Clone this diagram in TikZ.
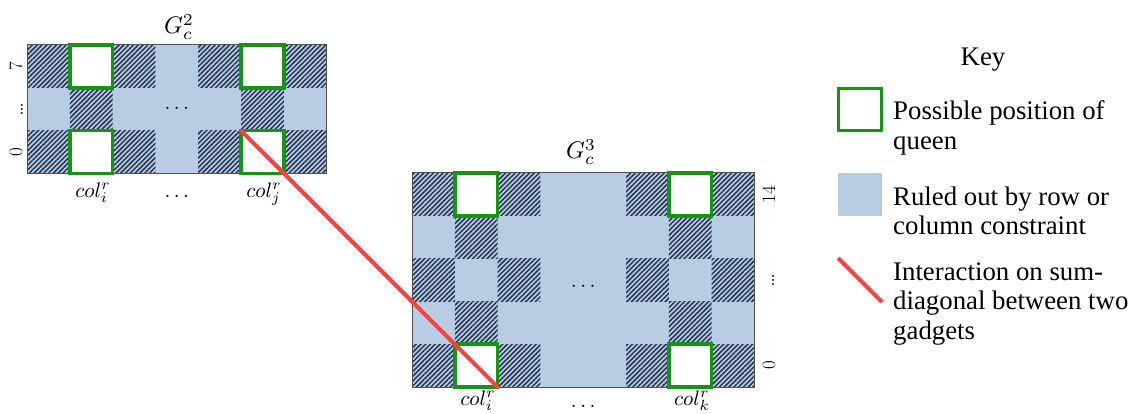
\documentclass[tikz,border=0pt]{standalone}
\usepackage{graphicx}
\usepackage{fontspec}
\newfontfamily\keyfont{Liberation Serif}
\usetikzlibrary{patterns.meta}
\definecolor{bgblue}{RGB}{184,204,228}
\definecolor{hatchc}{RGB}{38,52,80}
\definecolor{qgreen}{RGB}{20,150,20}
\definecolor{ired}{RGB}{255,64,64}
\definecolor{gridline}{RGB}{80,80,80}
\newcommand\mlbl[2][2.1]{\scalebox{#1}{$#2$}}
\begin{document}
\begin{tikzpicture}[x=1pt,y=-1pt,
  hatch/.style={pattern={Lines[angle=45,distance=3.4pt,line width=1.5pt]},pattern color=hatchc},
  queen/.style={rectangle,draw=qgreen,line width=3.5pt,fill=white,minimum width=42.8pt,minimum height=42.8pt,inner sep=0pt,outer sep=0pt},
  bluebox/.style={rectangle,fill=bgblue,minimum width=44pt,minimum height=43pt,inner sep=0pt,outer sep=0pt},
  redline/.style={draw=ired,line width=4pt,line cap=round},
  mathlbl/.style={inner sep=0pt,font=\normalsize},
  numlbl/.style={inner sep=0pt,rotate=90,anchor=base,font=\fontsize{19}{22}\selectfont},
  vdots/.style={inner sep=0pt,rotate=90,anchor=base,font=\fontsize{24}{28}\selectfont},
  dotlbl/.style={inner sep=0pt,font=\normalsize},
  keytxt/.style={inner sep=0pt,align=left,font=\keyfont\fontsize{26.8}{29.5}\selectfont},
  outline/.style={draw=gridline,line width=1pt}
]
\useasboundingbox (0,0) rectangle (1132,414);
% ---------- G_c^2 ----------
\fill[bgblue] (27,45) rectangle (326.6,173.4);
\foreach \c/\r in {0/0,2/0,4/0,6/0,1/1,5/1,0/2,2/2,4/2,6/2}
  \fill[hatch] ({27+\c*42.8},{45+\r*42.8}) rectangle ++(42.8,42.8);
\draw[outline] (27,45) rectangle (326.6,173.4);
\node[queen] (g2tl) at (91.2,66.4) {};
\node[queen] (g2tr) at (262.4,66.4) {};
\node[queen] (g2bl) at (91.2,152) {};
\node[queen] (g2br) at (262.4,152) {};
\node[dotlbl] (g2dots) at (176.8,109.2) {\mlbl{\cdots}};
\node[mathlbl] (g2title) at (179,27) {\mlbl[2.4]{G_c^2}};
\node[mathlbl,anchor=base] (g2ci) at (93,197) {\mlbl{col_i^r}};
\node[mathlbl,anchor=base] (g2cd) at (176.8,197) {\mlbl{\dots}};
\node[mathlbl,anchor=base] (g2cj) at (264,197) {\mlbl{col_j^r}};
\node[numlbl] (g2r7) at (22,66.4) {7};
\node[vdots] (g2rd) at (23,109.2) {\ldots};
\node[numlbl] (g2r0) at (22,152) {0};
% ---------- G_c^3 ----------
\fill[bgblue] (412,173) rectangle (754.4,387);
\foreach \c/\r in {0/0,2/0,5/0,7/0,1/1,6/1,0/2,2/2,5/2,7/2,1/3,6/3,0/4,2/4,5/4,7/4}
  \fill[hatch] ({412+\c*42.8},{173+\r*42.8}) rectangle ++(42.8,42.8);
\draw[outline] (412,173) rectangle (754.4,387);
\node[queen] (g3tl) at (476.2,194.4) {};
\node[queen] (g3tr) at (690.2,194.4) {};
\node[queen] (g3bl) at (476.2,365.6) {};
\node[queen] (g3br) at (690.2,365.6) {};
\node[dotlbl] (g3dots) at (583.2,287) {\mlbl{\cdots}};
\node[mathlbl] (g3title) at (581,152) {\mlbl[2.4]{G_c^3}};
\node[mathlbl,anchor=base] (g3ci) at (478,405) {\mlbl{col_i^r}};
\node[mathlbl,anchor=base] (g3cd) at (583.2,407) {\mlbl{\dots}};
\node[mathlbl,anchor=base] (g3ck) at (692,405) {\mlbl{col_k^r}};
\node[numlbl] (g3r14) at (775,194.4) {14};
\node[vdots] (g3rd) at (774,280) {\ldots};
\node[numlbl] (g3r0) at (775,365.6) {0};
% interaction
\draw[redline] (g2br.north west) -- (g3bl.south east);
% ---------- Key ----------
\node[keytxt] (keytitle) at (983,60) {Key};
\node[queen,minimum width=43pt,minimum height=42pt] (kq) at (860,109.5) {};
\node[bluebox] (kb) at (860,195) {};
\coordinate (kr1) at (838,258);
\coordinate (kr2) at (882,302);
\draw[redline,line cap=butt] (kr1) -- (kr2);
\node[keytxt,anchor=west] (kt1) at (893,128) {Possible position of\\queen};
\node[keytxt,anchor=west] (kt2) at (893,211) {Ruled out by row or\\column constraint};
\node[keytxt,anchor=west] (kt3) at (893,304) {Interaction on sum-\\diagonal between two\\gadgets};
\end{tikzpicture}
\end{document}
